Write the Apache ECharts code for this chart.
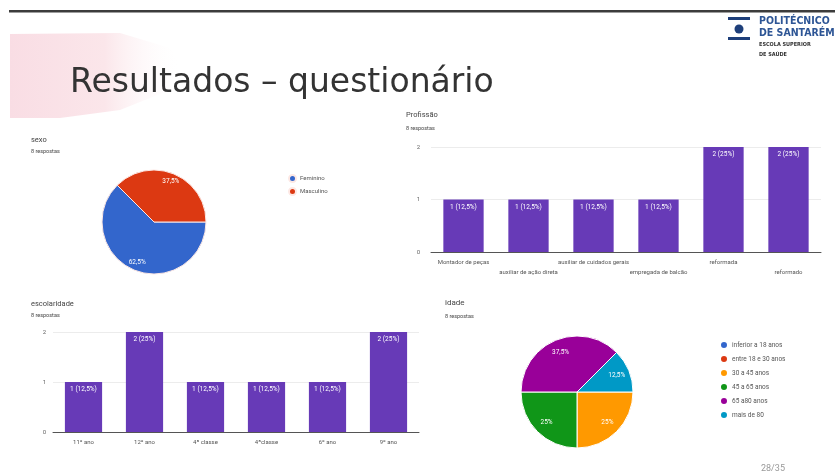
<!DOCTYPE html>
<html><head><meta charset="utf-8">
<script src="https://cdn.jsdelivr.net/npm/echarts@6/dist/echarts.min.js"></script>
<style>html,body{margin:0;padding:0;background:#fff}#c{width:835px;height:473px}</style>
</head><body><div id="c"></div>
<script>
const sexoCats = ['Feminino', 'Masculino'];
const sexoVals = [5, 3];
const sexoColors = ['#3366cc', '#dc3912'];

const profCats = ['Montador de peças', 'auxiliar de ação direta', 'auxiliar de cuidados gerais', 'empregada de balcão', 'reformada', 'reformado'];
const profVals = [1, 1, 1, 1, 2, 2];

const escCats = ['11º ano', '12º ano', '4ª classe', '4ªclasse', '6º ano', '9º ano'];
const escVals = [1, 2, 1, 1, 1, 2];

const idadeCats = ['inferior a 18 anos', 'entre 18 e 30 anos', '30 a 45 anos', '45 a 65 anos', '65 a80 anos', 'mais de 80'];
const idadeVals = [0, 0, 2, 2, 3, 1];
const idadeColors = ['#3366cc', '#dc3912', '#ff9900', '#109618', '#990099', '#0099c6'];

const yTicks = [0, 1, 2];
const totalResp = 8;

const fmtNum = n => String(Math.round(n * 10) / 10).replace('.', ',');
const barLabel = p => p.value + ' (' + fmtNum(p.value / totalResp * 100) + '%)';
const pieLabel = p => p.value ? fmtNum(p.percent) + '%' : '';

const chart = echarts.init(document.getElementById('c'), null, {renderer: 'canvas'});
const FONT = 'Roboto';
const barColor = '#673ab7';

function pieData(cats, vals, colors) {
  return cats.map((c, i) => ({name: c, value: vals[i], itemStyle: {color: colors[i]}}));
}
function overlayData(cats, vals) {
  return cats.map((c, i) => ({name: c, value: vals[i]}));
}
function catAxis(gi, cats, stagger) {
  return {
    type: 'category', gridIndex: gi, data: cats,
    axisLine: {lineStyle: {color: '#555', width: 1}},
    axisTick: {show: false},
    axisLabel: {
      interval: 0, fontSize: 6, color: '#555', fontFamily: FONT, margin: 5, lineHeight: 10,
      formatter: (v, i) => (stagger && i % 2) ? '\n' + v : v
    }
  };
}
function valAxis(gi, margin) {
  return {
    type: 'value', gridIndex: gi, min: yTicks[0], max: yTicks[yTicks.length - 1], interval: 1,
    axisLine: {show: false}, axisTick: {show: false},
    axisLabel: {fontSize: 6, color: '#666', fontFamily: FONT, margin: margin},
    splitLine: {lineStyle: {color: '#ececec', width: 1}}
  };
}
function barSeries(gi, vals, gap) {
  return {
    type: 'bar', xAxisIndex: gi, yAxisIndex: gi, data: vals,
    barCategoryGap: gap, itemStyle: {color: barColor}, silent: true,
    label: {show: true, position: 'insideTop', color: '#fff', fontSize: 6.5, fontFamily: FONT, distance: 4, formatter: barLabel}
  };
}

const titleStyle = {fontSize: 7.5, color: '#444', fontWeight: 'normal', fontFamily: FONT};
const subStyle = {fontSize: 5.5, color: '#444', fontWeight: 'normal', fontFamily: FONT};

chart.setOption({
  backgroundColor: '#ffffff',
  animation: false,
  title: [
    {text: 'Resultados – questionário', left: 65, top: 62, textStyle: {fontSize: 33, color: '#333', fontWeight: 'normal', fontFamily: 'DejaVu Sans'}},
    {text: 'sexo', left: 26, top: 131, textStyle: titleStyle},
    {text: '8 respostas', left: 26, top: 144, textStyle: subStyle},
    {text: 'Profissão', left: 401, top: 106, textStyle: titleStyle},
    {text: '8 respostas', left: 401, top: 121, textStyle: subStyle},
    {text: 'escolaridade', left: 26, top: 295, textStyle: titleStyle},
    {text: '8 respostas', left: 26, top: 308, textStyle: subStyle},
    {text: 'idade', left: 440, top: 294, textStyle: {fontSize: 8, color: '#444', fontWeight: 'normal', fontFamily: FONT}},
    {text: '8 respostas', left: 440, top: 309, textStyle: subStyle},
    {text: '28/35', left: 756, top: 459, textStyle: {fontSize: 9, color: '#999', fontWeight: 'normal', fontFamily: FONT}}
  ],
  graphic: [
    {type: 'polygon', silent: true, z: -1,
     shape: {points: [[10, 34], [120, 33], [170, 48], [182, 68], [165, 92], [120, 110], [60, 118], [10, 118]]},
     style: {fill: new echarts.graphic.LinearGradient(0, 0, 1, 0, [{offset: 0, color: '#f9dde4'}, {offset: 0.55, color: '#fbe6ea'}, {offset: 1, color: 'rgba(255,255,255,0)'}])}},
    {type: 'rect', silent: true, shape: {x: 9, y: 10, width: 826, height: 2.5}, style: {fill: '#3c3c3c'}},
    {type: 'rect', silent: true, shape: {x: 728, y: 17, width: 22, height: 3}, style: {fill: '#1e3f7a'}},
    {type: 'circle', silent: true, shape: {cx: 739, cy: 29, r: 4.5}, style: {fill: '#1e3f7a'}},
    {type: 'rect', silent: true, shape: {x: 728, y: 37, width: 22, height: 3}, style: {fill: '#1e3f7a'}},
    {type: 'text', silent: true, left: 759, top: 16, style: {text: 'POLITÉCNICO', fontSize: 10.5, fontWeight: 'bold', fill: '#2d5595', fontFamily: 'DejaVu Sans Condensed'}},
    {type: 'text', silent: true, left: 759, top: 28, style: {text: 'DE SANTARÉM', fontSize: 10.5, fontWeight: 'bold', fill: '#2d5595', fontFamily: 'DejaVu Sans Condensed'}},
    {type: 'text', silent: true, left: 759, top: 42, style: {text: 'ESCOLA SUPERIOR', fontSize: 5.5, fontWeight: 'bold', fill: '#333', fontFamily: 'DejaVu Sans Condensed'}},
    {type: 'text', silent: true, left: 759, top: 52, style: {text: 'DE SAÚDE', fontSize: 5.5, fontWeight: 'bold', fill: '#333', fontFamily: 'DejaVu Sans Condensed'}}
  ],
  legend: [
    {orient: 'vertical', left: 283, top: 169, itemWidth: 7, itemHeight: 7, itemGap: 4, icon: 'circle', selectedMode: false,
     textStyle: {fontSize: 6, color: '#555', fontFamily: FONT, padding: [0, 0, 0, -1]},
     data: sexoCats.map((c, i) => ({name: c, itemStyle: {color: sexoColors[i]}}))},
    {orient: 'vertical', left: 714, top: 335, itemWidth: 8, itemHeight: 8, itemGap: 4, icon: 'circle', selectedMode: false,
     textStyle: {fontSize: 6.5, color: '#555', fontFamily: FONT, padding: [0, 0, 0, -1]},
     data: idadeCats.map((c, i) => ({name: c, itemStyle: {color: idadeColors[i]}}))}
  ],
  grid: [
    {left: 431, right: 14, top: 147, bottom: 221},
    {left: 53, right: 416, top: 332, bottom: 41}
  ],
  xAxis: [catAxis(0, profCats, true), catAxis(1, escCats, false)],
  yAxis: [valAxis(0, 11), valAxis(1, 7)],
  series: [
    barSeries(0, profVals, '38%'),
    barSeries(1, escVals, '39%'),
    {type: 'pie', center: [154, 222], radius: [0, 52], startAngle: 0, clockwise: true, silent: true,
     label: {show: false}, labelLine: {show: false},
     itemStyle: {borderColor: '#fde8e4', borderWidth: 1},
     data: pieData(sexoCats, sexoVals, sexoColors)},
    {type: 'pie', center: [154, 222], radius: [30, 52], startAngle: 0, clockwise: true, silent: true,
     itemStyle: {color: 'rgba(0,0,0,0)'}, labelLine: {show: false},
     label: {show: true, position: 'inside', color: '#fff', fontSize: 6.5, fontFamily: FONT, formatter: pieLabel},
     data: overlayData(sexoCats, sexoVals)},
    {type: 'pie', center: [577, 392], radius: [0, 56], startAngle: 0, clockwise: true, silent: true,
     label: {show: false}, labelLine: {show: false},
     itemStyle: {borderColor: '#fff', borderWidth: 1},
     data: pieData(idadeCats, idadeVals, idadeColors)},
    {type: 'pie', center: [577, 392], radius: [24, 56], startAngle: 0, clockwise: true, silent: true,
     itemStyle: {color: 'rgba(0,0,0,0)'}, labelLine: {show: false},
     label: {show: true, position: 'inside', color: '#fff', fontSize: 6.5, fontFamily: FONT, formatter: pieLabel},
     data: overlayData(idadeCats, idadeVals)}
  ]
});
</script></body></html>
